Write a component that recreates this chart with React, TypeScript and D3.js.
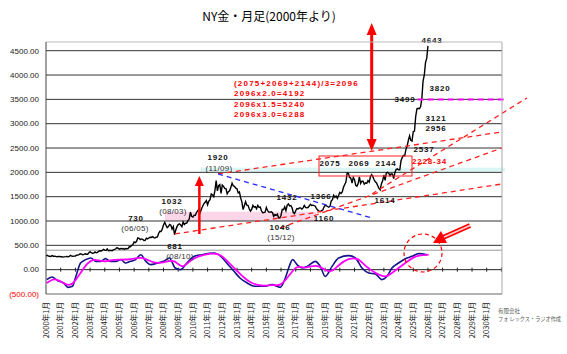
import React, { useEffect, useRef } from "react";
import * as d3 from "d3";

// x axis labels (Jan of each year)
const xYears = d3.range(2000, 2031);
const yTicks = [-500, 0, 500, 1000, 1500, 2000, 2500, 3000, 3500, 4000, 4500];

// NY gold monthly close, Jan 2000 -> Dec 2009
const close2000s = [
  283, 294, 277, 275, 272, 288, 276, 277, 273, 264, 270, 272,
  266, 267, 258, 264, 267, 271, 266, 273, 293, 279, 276, 279,
  282, 297, 302, 309, 327, 319, 305, 313, 325, 317, 318, 347,
  368, 348, 336, 339, 365, 346, 355, 376, 388, 384, 398, 416,
  402, 396, 427, 388, 395, 396, 391, 407, 416, 429, 452, 438,
  422, 435, 429, 435, 417, 436, 430, 433, 471, 471, 495, 517,
  569, 556, 582, 654, 643, 616, 632, 624, 599, 604, 648, 632,
  651, 666, 663, 679, 659, 650, 666, 672, 743, 790, 784, 834,
  923, 972, 916, 865, 886, 930, 914, 833, 885, 719, 815, 884,
  927, 942, 917, 884, 979, 927, 955, 956, 1008, 1040, 1182, 1096,
];
// Jan 2010 -> Dec 2019
const close2010s = [
  1081, 1119, 1116, 1180, 1213, 1244, 1181, 1248, 1307, 1357, 1386, 1421,
  1333, 1409, 1439, 1556, 1536, 1500, 1628, 1829, 1620, 1725, 1746, 1566,
  1740, 1711, 1669, 1664, 1560, 1604, 1622, 1692, 1776, 1719, 1713, 1676,
  1663, 1579, 1597, 1476, 1393, 1234, 1314, 1396, 1327, 1323, 1253, 1202,
  1240, 1322, 1284, 1296, 1250, 1322, 1282, 1287, 1210, 1171, 1175, 1184,
  1279, 1212, 1183, 1184, 1190, 1171, 1095, 1132, 1115, 1142, 1065, 1061,
  1118, 1238, 1233, 1293, 1215, 1322, 1351, 1309, 1316, 1273, 1174, 1152,
  1211, 1254, 1249, 1268, 1270, 1242, 1270, 1322, 1281, 1271, 1277, 1309,
  1343, 1318, 1325, 1316, 1305, 1253, 1224, 1206, 1191, 1215, 1222, 1282,
  1321, 1316, 1298, 1284, 1305, 1413, 1437, 1529, 1485, 1513, 1464, 1523,
];
// Jan 2020 -> Jan 2026
const close2020s = [
  1589, 1566, 1596, 1694, 1751, 1800, 1986, 1978, 1895, 1880, 1780, 1895,
  1850, 1734, 1716, 1769, 1907, 1771, 1817, 1818, 1757, 1784, 1774, 1829,
  1797, 1909, 1954, 1911, 1848, 1807, 1782, 1726, 1672, 1640, 1768, 1826,
  1945, 1837, 1986, 1999, 1982, 1929, 1970, 1966, 1870, 1996, 2057, 2072,
  2054, 2054, 2238, 2303, 2348, 2339, 2473, 2538, 2660, 2749, 2657, 2641,
  2835, 2848, 3150, 3306, 3315, 3307, 3348, 3516, 3873, 3996, 4254, 4341,
  4600,
];

// oscillator (navy) [year, value]
const oscBlue: [number, number][] = [
  [2000.05, -205], [2000.4, -150], [2000.8, -226], [2001.2, -274], [2001.5, -363],
  [2001.8, -342], [2002.0, -171], [2002.35, 137], [2002.7, 206], [2003.05, 240],
  [2003.4, 171], [2003.7, 171], [2004.05, 226], [2004.4, 171], [2004.75, 171],
  [2005.1, 206], [2005.4, 137], [2005.75, 171], [2006.1, 206], [2006.45, 308],
  [2006.8, 171], [2007.12, 103], [2007.6, 137], [2008.0, 171], [2008.4, 240],
  [2008.8, 34], [2009.17, 0], [2009.5, 103], [2009.8, 206], [2010.1, 274],
  [2010.6, 308], [2011.45, 343], [2011.9, 274], [2012.4, 103], [2012.8, -34],
  [2013.2, -171], [2013.7, -274], [2014.2, -342], [2014.85, -342], [2015.4, -308],
  [2015.95, -363], [2016.29, -171], [2016.52, 34], [2016.79, 206], [2017.09, 103],
  [2017.43, 34], [2017.77, 68], [2018.33, 171], [2018.67, 68], [2019.01, -137],
  [2019.47, 68], [2019.92, 240], [2020.6, 288], [2021.06, 240], [2021.51, 34],
  [2021.97, -68], [2022.42, -89], [2022.87, -205], [2023.21, -137], [2023.55, 34],
  [2024.0, 137], [2024.46, 226], [2024.91, 274], [2025.37, 329], [2025.94, 308],
];
// oscillator signal (magenta)
const oscPink: [number, number][] = [
  [2000.05, -274], [2000.55, -171], [2001.0, -240], [2001.57, -342], [2001.9, -274],
  [2002.35, -68], [2002.8, 137], [2003.26, 226], [2003.72, 171], [2004.17, 171],
  [2004.63, 206], [2005.08, 206], [2005.54, 206], [2006.0, 226], [2006.45, 253],
  [2006.9, 206], [2007.36, 137], [2007.81, 137], [2008.27, 171], [2008.72, 206],
  [2009.29, 21], [2009.63, 137], [2010.08, 240], [2010.76, 308], [2011.45, 343],
  [2011.9, 308], [2012.47, 137], [2013.04, -34], [2013.5, -171], [2013.95, -274],
  [2014.63, -342], [2015.54, -308], [2015.95, -342], [2016.52, -137], [2017.09, 103],
  [2017.54, 21], [2018.0, 68], [2018.56, 103], [2019.35, -103], [2019.92, 103],
  [2020.6, 240], [2021.28, 240], [2021.74, 68], [2022.42, -68], [2023.1, -171],
  [2023.55, -68], [2024.0, 34], [2024.46, 137], [2024.91, 240], [2025.37, 295],
  [2026.05, 308],
];

// trend lines [year, price]
const redTrends: [number, number][][] = [
  [[2008.78, 734], [2031.04, 1761]],
  [[2015.93, 857], [2031.04, 2501]],
  [[2022.19, 1556], [2032.74, 3529]],
  [[2011.71, 1967], [2031.04, 2830]],
];
const blueTrend: [number, number][] = [[2011.71, 1967], [2022.19, 1062]];

const formulas = [
  "(2075+2069+2144)/3=2096",
  "2096x2.0=4192",
  "2096x1.5=5240",
  "2096x3.0=6288",
];

// [text, cx, baseline, bold]
const priceLabels: [string, number, number, boolean][] = [
  ["730", 136, 221, true], ["(06/05)", 135, 231, false],
  ["1032", 172, 204, true], ["(08/03)", 173, 214, false],
  ["681", 175, 249, true], ["(08/10)", 180, 259, false],
  ["1920", 218, 160, true], ["(11/09)", 219, 171, false],
  ["1432", 287, 200, true], ["1366", 321, 199, true], ["1160", 324, 221, true],
  ["1046", 280, 230, true], ["(15/12)", 281, 240, false],
  ["2075", 330, 166, true], ["2069", 359, 166, true], ["2144", 386, 166, true],
  ["1614", 385, 203, true], ["2537", 424, 152, true],
  ["2956", 436, 130.5, true], ["3121", 436, 120.5, true],
  ["3499", 405, 101.5, true], ["3820", 440, 90.5, true], ["4643", 432, 43, true],
];

const FONT = "'Liberation Sans', Arial, sans-serif";
const JP = "'Noto Sans CJK JP', sans-serif";

const App = () => {
  const svgRef = useRef(null);

  useEffect(() => {
    const svg = d3.select(svgRef.current);
    svg.selectAll("*").remove();

    const left = 46, right = 502, top = 42, bottom = 294;
    const x = d3.scaleLinear().domain([2000, 2031]).range([46, 501.4]);
    const y = d3.scaleLinear().domain([-500, 4500]).range([294, 50.7]);

    const closes = [...close2000s, ...close2010s, ...close2020s].map((v, i) => [
      2000 + i / 12,
      v,
    ]);

    svg.append("rect").attr("width", 567).attr("height", 354).attr("fill", "#fff");

    // title
    svg.append("text")
      .attr("x", 269).attr("y", 21)
      .attr("text-anchor", "middle")
      .attr("font-family", JP).attr("font-size", 12)
      .text("NY金・月足(2000年より)");

    // highlight bands
    svg.append("rect")
      .attr("x", x(2008.1)).attr("width", x(2018.4) - x(2008.1))
      .attr("y", y(1190)).attr("height", y(1000) - y(1190))
      .attr("fill", "#fbd6e8");
    svg.append("rect")
      .attr("x", x(2010.5)).attr("width", 505 - x(2010.5))
      .attr("y", y(2096)).attr("height", y(2014) - y(2096))
      .attr("fill", "#dcf6f6");

    // grid
    const g = svg.append("g");
    g.selectAll("line.grid")
      .data(yTicks.filter((t) => t > 0))
      .join("line")
      .attr("x1", left).attr("x2", right)
      .attr("y1", (d) => y(d)).attr("y2", (d) => y(d))
      .attr("stroke", "#333").attr("stroke-width", 1);
    g.append("line")
      .attr("x1", left).attr("x2", right)
      .attr("y1", y(400)).attr("y2", y(400))
      .attr("stroke", "#999");
    g.append("line")
      .attr("x1", left).attr("x2", right)
      .attr("y1", y(0)).attr("y2", y(0))
      .attr("stroke", "#222");
    g.selectAll("line.tick")
      .data(xYears.slice(1).concat([2031]))
      .join("line")
      .attr("x1", (d) => x(d)).attr("x2", (d) => x(d))
      .attr("y1", y(0) - 2).attr("y2", y(0) + 2)
      .attr("stroke", "#222");

    // y labels
    svg.append("g")
      .selectAll("text")
      .data(yTicks)
      .join("text")
      .attr("x", 39).attr("y", (d) => y(d))
      .attr("dy", "0.35em")
      .attr("text-anchor", "end")
      .attr("font-family", FONT).attr("font-size", 8)
      .attr("fill", (d) => (d < 0 ? "#ff0000" : "#222"))
      .text((d) => (d < 0 ? `(${d3.format(".2f")(-d)})` : d3.format(".2f")(d)));

    // x labels
    svg.append("g")
      .selectAll("text")
      .data(xYears)
      .join("text")
      .attr("transform", (d) => `translate(${x(d)},302) rotate(-90)`)
      .attr("dy", "0.35em")
      .attr("text-anchor", "end")
      .attr("font-family", JP).attr("font-size", 7.6)
      .attr("fill", "#222")
      .text((d) => `${d}年1月`);

    // price
    svg.append("path")
      .attr("d", d3.line().x((d) => x(d[0])).y((d) => y(d[1]))(closes))
      .attr("fill", "none").attr("stroke", "#000").attr("stroke-width", 1.4);

    // oscillator
    svg.append("path")
      .attr("d", d3.line().x((d) => x(d[0])).y((d) => y(d[1])).curve(d3.curveMonotoneX)(oscBlue))
      .attr("fill", "none").attr("stroke", "#14148a").attr("stroke-width", 1.6);
    svg.append("path")
      .attr("d", d3.line().x((d) => x(d[0])).y((d) => y(d[1])).curve(d3.curveBasis)(oscPink))
      .attr("fill", "none").attr("stroke", "#ff00ff").attr("stroke-width", 1.8);

    // trend lines
    redTrends.forEach((t) => {
      svg.append("line")
        .attr("x1", x(t[0][0])).attr("y1", y(t[0][1]))
        .attr("x2", x(t[1][0])).attr("y2", y(t[1][1]))
        .attr("stroke", "#ff2020").attr("stroke-width", 1.3)
        .attr("stroke-dasharray", "5,4");
    });
    svg.append("line")
      .attr("x1", x(blueTrend[0][0])).attr("y1", y(blueTrend[0][1]))
      .attr("x2", x(blueTrend[1][0])).attr("y2", y(blueTrend[1][1]))
      .attr("stroke", "#2a2aff").attr("stroke-width", 1.3)
      .attr("stroke-dasharray", "5,4");
    svg.append("line")
      .attr("x1", x(2025.3)).attr("x2", 505)
      .attr("y1", y(3499)).attr("y2", y(3499))
      .attr("stroke", "#ff00ff").attr("stroke-width", 2)
      .attr("stroke-dasharray", "6,4");

    // box around the 2020-23 tops
    svg.append("rect")
      .attr("x", 319).attr("y", 156).attr("width", 93).attr("height", 20)
      .attr("fill", "none").attr("stroke", "#ff2020").attr("stroke-width", 1);

    // arrows
    const red = "#ff0000";
    const bx = x(2022.17);
    svg.append("line").attr("x1", bx).attr("x2", bx).attr("y1", 32).attr("y2", 142)
      .attr("stroke", red).attr("stroke-width", 3);
    svg.append("path").attr("d", `M${bx},23 L${bx - 5},35 L${bx + 5},35 Z`).attr("fill", red);
    svg.append("path").attr("d", `M${bx},151 L${bx - 5},139 L${bx + 5},139 Z`).attr("fill", red);

    const sx = x(2010.44);
    svg.append("line").attr("x1", sx).attr("x2", sx).attr("y1", 234).attr("y2", 184)
      .attr("stroke", red).attr("stroke-width", 2.5);
    svg.append("path").attr("d", `M${sx},176 L${sx - 4.5},186 L${sx + 4.5},186 Z`).attr("fill", red);

    // diagonal striped arrow
    svg.append("line").attr("x1", 470).attr("y1", 225.5).attr("x2", 443).attr("y2", 237.5)
      .attr("stroke", red).attr("stroke-width", 5);
    svg.append("line").attr("x1", 470).attr("y1", 225.5).attr("x2", 443).attr("y2", 237.5)
      .attr("stroke", "#ffd0d0").attr("stroke-width", 1.5);
    svg.append("path").attr("d", "M433,243 L441,231 L447,243 Z").attr("fill", red);

    svg.append("ellipse").attr("cx", 423).attr("cy", 253).attr("rx", 19).attr("ry", 19)
      .attr("fill", "none").attr("stroke", red).attr("stroke-width", 1.2)
      .attr("stroke-dasharray", "4,3");

    // labels
    svg.append("g")
      .selectAll("text")
      .data(priceLabels)
      .join("text")
      .attr("x", (d) => d[1]).attr("y", (d) => d[2])
      .attr("text-anchor", "middle")
      .attr("font-family", FONT)
      .attr("font-size", 8)
      .attr("font-weight", (d) => (d[3] ? "bold" : "normal"))
      .attr("letter-spacing", (d) => (d[3] ? 0.8 : 0.3))
      .attr("fill", (d) => (d[3] ? "#111" : "#333"))
      .text((d) => d[0]);

    svg.append("text")
      .attr("x", 412).attr("y", 164)
      .attr("font-family", FONT).attr("font-size", 8).attr("font-weight", "bold")
      .attr("letter-spacing", 0.8).attr("fill", red)
      .text("2228-34");

    svg.append("g")
      .selectAll("text")
      .data(formulas)
      .join("text")
      .attr("x", 234).attr("y", (d, i) => 85.7 + i * 10.4)
      .attr("font-family", FONT).attr("font-size", 8).attr("font-weight", "bold")
      .attr("letter-spacing", 1.2).attr("fill", red)
      .text((d) => d);

    // plot frame
    svg.append("line").attr("x1", left).attr("x2", right).attr("y1", top).attr("y2", top)
      .attr("stroke", "#bbb");
    svg.append("line").attr("x1", right).attr("x2", right).attr("y1", top).attr("y2", bottom)
      .attr("stroke", "#aaa");
    svg.append("line").attr("x1", left).attr("x2", right).attr("y1", bottom).attr("y2", bottom)
      .attr("stroke", "#666");
    svg.append("line").attr("x1", left).attr("x2", left).attr("y1", top).attr("y2", bottom)
      .attr("stroke", "#444");

    // credit
    const credit = svg.append("g").attr("font-family", JP).attr("font-size", 5.5).attr("fill", "#555");
    credit.append("text").attr("x", 498).attr("y", 313).text("有限会社");
    credit.append("text").attr("x", 498).attr("y", 321)
      .attr("textLength", 63).attr("lengthAdjust", "spacingAndGlyphs")
      .text("フォ レックス・ラジオ作成");
  }, []);

  return (
    <svg
      ref={svgRef}
      width={567}
      height={354}
      style={{ position: "absolute", left: 0, top: 0 }}
    ></svg>
  );
};

export default App;
